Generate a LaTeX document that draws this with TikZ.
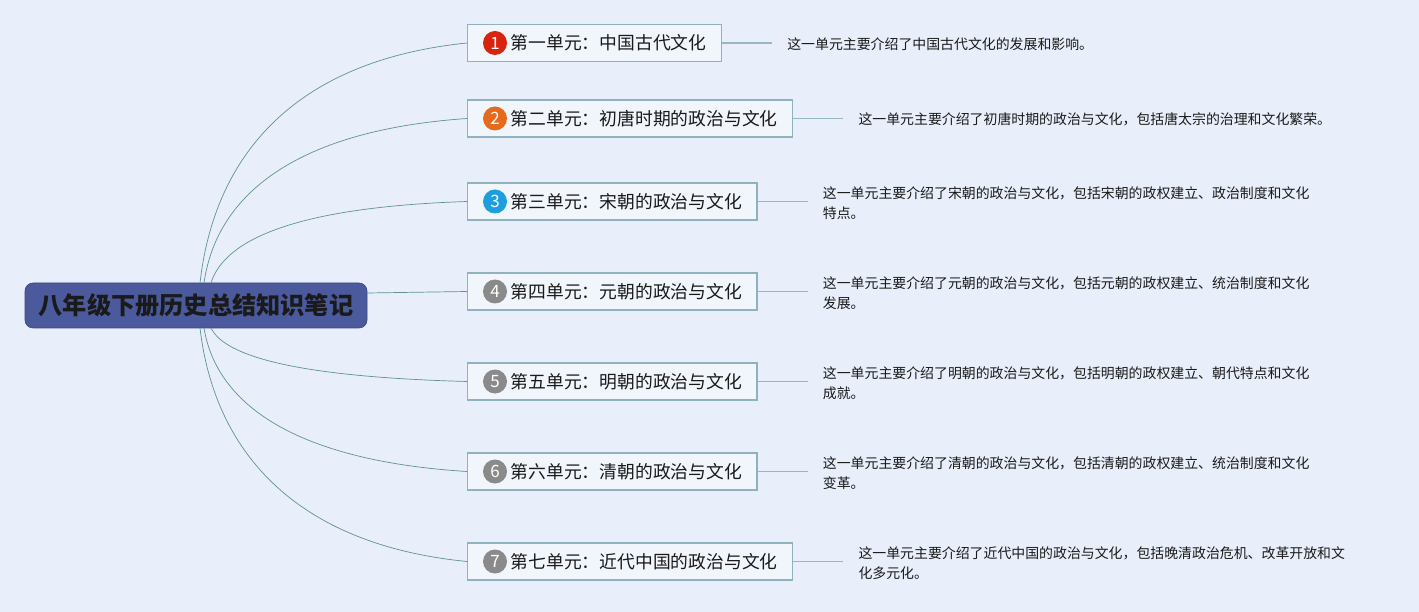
\documentclass[tikz,border=0pt]{standalone}
\usepackage{fontspec}
\setmainfont{Noto Sans CJK SC}
\newfontfamily\cjk{Noto Sans CJK SC}
\definecolor{bg}{HTML}{E8EEFA}
\definecolor{rootfill}{HTML}{4A5A9C}
\definecolor{boxline}{HTML}{8FB2BC}
\definecolor{curve}{HTML}{5E9294}
\definecolor{stub}{HTML}{96B8C2}
\definecolor{ired}{HTML}{D8230F}
\definecolor{iorange}{HTML}{E66A1C}
\definecolor{iblue}{HTML}{1E9EDF}
\definecolor{igray}{HTML}{8A8A8A}
\definecolor{txt}{HTML}{1A1A1A}
\begin{document}
\begin{tikzpicture}[x=1pt,y=-1pt,
  rootbox/.style={draw=rootfill!80!black, line width=0.6pt, fill=rootfill, rounded corners=8pt,
    minimum width=342pt, minimum height=45pt, inner sep=0pt, text=txt,
    font=\cjk\fontsize{24.2}{26}\selectfont\bfseries},
  unitbox/.style={draw=boxline, line width=1.3pt, fill=bg!60!white, anchor=west,
    minimum height=37pt, inner xsep=15pt, inner ysep=0pt, text=txt,
    font=\cjk\fontsize{17.8}{20}\selectfont},
  icon/.style={circle, inner sep=0pt, minimum size=24pt, text=white,
    font=\fontsize{17}{18}\selectfont},
  desc/.style={anchor=west, align=left, text=txt, inner sep=0pt,
    font=\cjk\fontsize{13.9}{20}\selectfont},
  branch/.style={draw=curve, line width=0.7pt},
  stubline/.style={draw=stub, line width=1.1pt}]
\useasboundingbox (0,0) rectangle (1419,612);
\fill[bg] (0,0) rectangle (1419,612);

% root
\node[rootbox] (root) at (196,305.5) {八年级下册历史总结知识笔记};
\coordinate (rt1) at (200,283);
\coordinate (rt2) at (204,283);
\coordinate (rt3) at (211,283);
\coordinate (rb5) at (211,328);
\coordinate (rb6) at (204,328);
\coordinate (rb7) at (200,328);

% unit boxes
\node[unitbox] (u1) at (467,43) {\hspace*{28pt}第一单元：中国古代文化};
\node[unitbox] (u2) at (467,118.5) {\hspace*{28pt}第二单元：初唐时期的政治与文化};
\node[unitbox] (u3) at (467,201.5) {\hspace*{28pt}第三单元：宋朝的政治与文化};
\node[unitbox] (u4) at (467,291.5) {\hspace*{28pt}第四单元：元朝的政治与文化};
\node[unitbox] (u5) at (467,381.5) {\hspace*{28pt}第五单元：明朝的政治与文化};
\node[unitbox] (u6) at (467,471.5) {\hspace*{28pt}第六单元：清朝的政治与文化};
\node[unitbox] (u7) at (467,561.5) {\hspace*{28pt}第七单元：近代中国的政治与文化};

% icons
\node[icon, fill=ired] (i1) at ([xshift=28pt]u1.west) {1};
\node[icon, fill=iorange] (i2) at ([xshift=28pt]u2.west) {2};
\node[icon, fill=iblue] (i3) at ([xshift=28pt]u3.west) {3};
\node[icon, fill=igray] (i4) at ([xshift=28pt]u4.west) {4};
\node[icon, fill=igray] (i5) at ([xshift=28pt]u5.west) {5};
\node[icon, fill=igray] (i6) at ([xshift=28pt]u6.west) {6};
\node[icon, fill=igray] (i7) at ([xshift=28pt]u7.west) {7};

% branches
\draw[branch] (rt1) .. controls (215,150) and (300,60) .. (u1.west);
\draw[branch] (rt2) .. controls (217,192) and (300,130) .. (u2.west);
\draw[branch] (rt3) .. controls (225,238) and (300,207) .. (u3.west);
\draw[branch] (root.east |- 0,293) -- (u4.west);
\draw[branch] (rb5) .. controls (225,357) and (300,377) .. (u5.west);
\draw[branch] (rb6) .. controls (217,407) and (300,461) .. (u6.west);
\draw[branch] (rb7) .. controls (215,456) and (300,545) .. (u7.west);

% stubs and descriptions
\foreach \i in {1,...,7}{
  \coordinate (e\i) at ([xshift=50pt]u\i.east);
  \draw[stubline] (u\i.east) -- (e\i);
}
\node[desc] (d1) at ([xshift=15pt,yshift=-1pt]e1) {这一单元主要介绍了中国古代文化的发展和影响。};
\node[desc] (d2) at ([xshift=15pt,yshift=-1pt]e2) {这一单元主要介绍了初唐时期的政治与文化，包括唐太宗的治理和文化繁荣。};
\node[desc] (d3) at ([xshift=15pt,yshift=-2pt]e3) {这一单元主要介绍了宋朝的政治与文化，包括宋朝的政权建立、政治制度和文化\\特点。};
\node[desc] (d4) at ([xshift=15pt,yshift=-2pt]e4) {这一单元主要介绍了元朝的政治与文化，包括元朝的政权建立、统治制度和文化\\发展。};
\node[desc] (d5) at ([xshift=15pt,yshift=-2pt]e5) {这一单元主要介绍了明朝的政治与文化，包括明朝的政权建立、朝代特点和文化\\成就。};
\node[desc] (d6) at ([xshift=15pt,yshift=-2pt]e6) {这一单元主要介绍了清朝的政治与文化，包括清朝的政权建立、统治制度和文化\\变革。};
\node[desc] (d7) at ([xshift=15pt,yshift=-2pt]e7) {这一单元主要介绍了近代中国的政治与文化，包括晚清政治危机、改革开放和文\\化多元化。};
\end{tikzpicture}
\end{document}
